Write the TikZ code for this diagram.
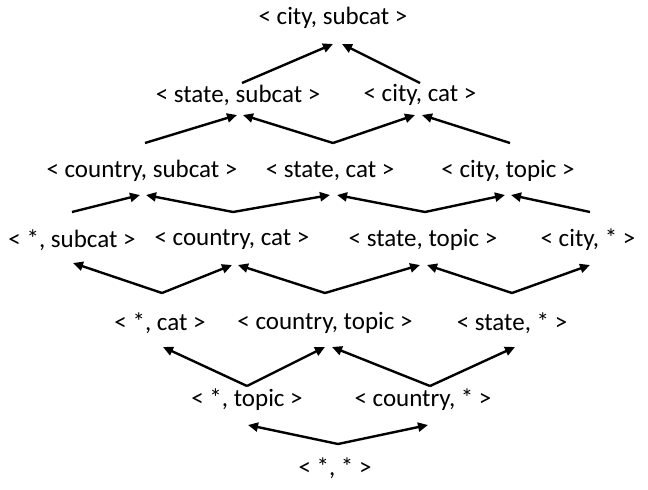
\documentclass[tikz,border=0pt]{standalone}
\usepackage{fontspec}
\setmainfont{Carlito}
\usetikzlibrary{arrows.meta,calc}
\begin{document}
\begin{tikzpicture}[x=1pt,y=-1pt,
  lat/.style={font=\fontsize{25}{29}\selectfont, inner sep=0pt},
  up/.style={line width=2.4pt, -{Triangle[length=10pt,width=9pt]}}]
\useasboundingbox (0,0) rectangle (648,490);
% lattice nodes
\node[lat] (n0)  at (333,18)  {< city, subcat >};
\node[lat] (n1a) at (238,95)  {< state, subcat >};
\node[lat] (n1b) at (420,95)  {< city, cat >};
\node[lat] (n2a) at (142,171) {< country, subcat >};
\node[lat] (n2b) at (330,171) {< state, cat >};
\node[lat] (n2c) at (508,171) {< city, topic >};
\node[lat] (n3a) at (72,240)  {< *, subcat >};
\node[lat] (n3b) at (232,240) {< country, cat >};
\node[lat] (n3c) at (423,240) {< state, topic >};
\node[lat] (n3d) at (588,240) {< city, * >};
\node[lat] (n4a) at (160,323) {< *, cat >};
\node[lat] (n4b) at (325,323) {< country, topic >};
\node[lat] (n4c) at (512,323) {< state, * >};
\node[lat] (n5a) at (247,400) {< *, topic >};
\node[lat] (n5b) at (423,400) {< country, * >};
\node[lat] (n6)  at (335,468) {< *, * >};
% junction points the arrows start from
\coordinate (j1a) at (242,83);
\coordinate (j1b) at (420,83);
\coordinate (j2a) at (145,143);
\coordinate (j2b) at (333,143);
\coordinate (j2c) at (510,143);
\coordinate (j3a) at (72,212);
\coordinate (j3b) at (233,212);
\coordinate (j3c) at (425,212);
\coordinate (j3d) at (590,212);
\coordinate (j4a) at (162,293);
\coordinate (j4b) at (325,293);
\coordinate (j4c) at (512,293);
\coordinate (j5a) at (247,386);
\coordinate (j5b) at (430,386);
\coordinate (j6)  at (338,444);
% generalisation arrows
\draw[up] (j1a) -- ($(n0)+(0,26)$);
\draw[up] (j1b) -- ($(n0)+(9,26)$);
\draw[up] (j2a) -- ($(n1a)+(-1,20)$);
\draw[up] (j2b) -- ($(n1a)+(5,20)$);
\draw[up] (j2b) -- ($(n1b)+(-5,20)$);
\draw[up] (j2c) -- ($(n1b)+(2,20)$);
\draw[up] (j3a) -- ($(n2a)+(-2,24)$);
\draw[up] (j3b) -- ($(n2a)+(4,24)$);
\draw[up] (j3b) -- ($(n2b)+(0,24)$);
\draw[up] (j3c) -- ($(n2b)+(7,24)$);
\draw[up] (j3c) -- ($(n2c)+(-3,24)$);
\draw[up] (j3d) -- ($(n2c)+(3,24)$);
\draw[up] (j4a) -- ($(n3a)+(1,23)$);
\draw[up] (j4a) -- ($(n3b)+(0,25)$);
\draw[up] (j4b) -- ($(n3b)+(6,25)$);
\draw[up] (j4b) -- ($(n3c)+(-3,25)$);
\draw[up] (j4c) -- ($(n3c)+(4,25)$);
\draw[up] (j4c) -- ($(n3d)+(2,25)$);
\draw[up] (j5a) -- ($(n4a)+(3,24)$);
\draw[up] (j5a) -- ($(n4b)+(0,24)$);
\draw[up] (j5b) -- ($(n4b)+(7,24)$);
\draw[up] (j5b) -- ($(n4c)+(3,24)$);
\draw[up] (j6) -- ($(n5a)+(1,25)$);
\draw[up] (j6) -- ($(n5b)+(5,25)$);
\end{tikzpicture}
\end{document}
